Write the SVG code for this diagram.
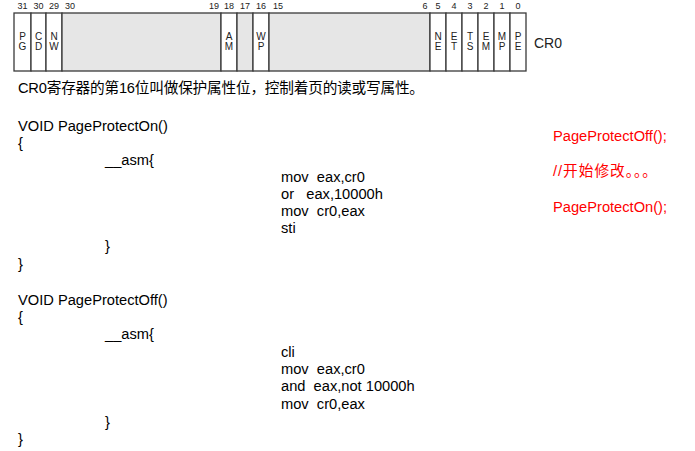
<svg xmlns="http://www.w3.org/2000/svg" width="695" height="451" viewBox="0 0 695 451">
<style>
.bg{fill:#ffffff}
.w{fill:#ffffff;stroke:#3a3a3a;stroke-width:1.3}
.g{fill:#e6e6e6;stroke:#3a3a3a;stroke-width:1.3}
.bit{font-family:"Liberation Sans",Arial,sans-serif;font-size:9px;fill:#222;text-anchor:middle}
.fl{font-family:"Liberation Sans",Arial,sans-serif;font-size:10px;fill:#222;text-anchor:middle}
.cr{font-family:"Liberation Sans",Arial,sans-serif;font-size:14px;fill:#222}
.t{font-family:"Liberation Sans",Arial,"Noto Sans CJK SC",sans-serif;font-size:14.67px;fill:#000}
.r{font-family:"Liberation Sans",Arial,"Noto Sans CJK SC",sans-serif;font-size:14.67px;fill:#ff0000}
</style>
<rect class="bg" x="0" y="0" width="695" height="451"/>
<g id="register">
<rect class="w" x="14" y="13" width="17" height="58"/>
<rect class="w" x="31" y="13" width="15" height="58"/>
<rect class="w" x="46" y="13" width="16" height="58"/>
<rect class="g" x="62" y="13" width="159" height="58"/>
<rect class="w" x="221" y="13" width="16" height="58"/>
<rect class="g" x="237" y="13" width="16" height="58"/>
<rect class="w" x="253" y="13" width="16" height="58"/>
<rect class="g" x="269" y="13" width="161" height="58"/>
<rect class="w" x="430" y="13" width="16" height="58"/>
<rect class="w" x="446" y="13" width="16" height="58"/>
<rect class="w" x="462" y="13" width="16" height="58"/>
<rect class="w" x="478" y="13" width="16" height="58"/>
<rect class="w" x="494" y="13" width="16" height="58"/>
<rect class="w" x="510" y="13" width="16" height="58"/>
</g>
<g id="bit-numbers">
<text class="bit" x="22.5" y="8.5">31</text>
<text class="bit" x="38.5" y="8.5">30</text>
<text class="bit" x="54" y="8.5">29</text>
<text class="bit" x="70" y="8.5">30</text>
<text class="bit" x="214" y="8.5">19</text>
<text class="bit" x="229" y="8.5">18</text>
<text class="bit" x="245" y="8.5">17</text>
<text class="bit" x="261" y="8.5">16</text>
<text class="bit" x="278" y="8.5">15</text>
<text class="bit" x="425" y="8.5">6</text>
<text class="bit" x="438" y="8.5">5</text>
<text class="bit" x="454" y="8.5">4</text>
<text class="bit" x="470" y="8.5">3</text>
<text class="bit" x="486" y="8.5">2</text>
<text class="bit" x="502" y="8.5">1</text>
<text class="bit" x="518" y="8.5">0</text>
</g>
<g id="flags">
<text class="fl" x="22.5" y="39.5">P</text><text class="fl" x="22.5" y="50">G</text>
<text class="fl" x="38.5" y="39.5">C</text><text class="fl" x="38.5" y="50">D</text>
<text class="fl" x="54" y="39.5">N</text><text class="fl" x="54" y="50">W</text>
<text class="fl" x="229" y="39.5">A</text><text class="fl" x="229" y="50">M</text>
<text class="fl" x="261" y="39.5">W</text><text class="fl" x="261" y="50">P</text>
<text class="fl" x="438" y="39.5">N</text><text class="fl" x="438" y="50">E</text>
<text class="fl" x="454" y="39.5">E</text><text class="fl" x="454" y="50">T</text>
<text class="fl" x="470" y="39.5">T</text><text class="fl" x="470" y="50">S</text>
<text class="fl" x="486" y="39.5">E</text><text class="fl" x="486" y="50">M</text>
<text class="fl" x="502" y="39.5">M</text><text class="fl" x="502" y="50">P</text>
<text class="fl" x="518" y="39.5">P</text><text class="fl" x="518" y="50">E</text>
<text class="cr" x="534" y="48">CR0</text>
</g>
<g id="description">
<text class="t" x="18" y="93" textLength="406" lengthAdjust="spacing">CR0寄存器的第16位叫做保护属性位，控制着页的读或写属性。</text>
</g>
<g id="page-protect-on">
<text class="t" x="18" y="131">VOID PageProtectOn()</text>
<text class="t" x="18" y="147.5">{</text>
<text class="t" x="105" y="164.5">__asm{</text>
<text class="t" x="281" y="182" xml:space="preserve">mov  eax,cr0</text>
<text class="t" x="281" y="198.5" xml:space="preserve">or   eax,10000h</text>
<text class="t" x="281" y="216" xml:space="preserve">mov  cr0,eax</text>
<text class="t" x="281" y="233">sti</text>
<text class="t" x="105" y="251">}</text>
<text class="t" x="18" y="269">}</text>
</g>
<g id="page-protect-off">
<text class="t" x="18" y="305">VOID PageProtectOff()</text>
<text class="t" x="18" y="322">{</text>
<text class="t" x="105" y="339">__asm{</text>
<text class="t" x="281" y="357">cli</text>
<text class="t" x="281" y="374" xml:space="preserve">mov  eax,cr0</text>
<text class="t" x="281" y="391" xml:space="preserve">and  eax,not 10000h</text>
<text class="t" x="281" y="409" xml:space="preserve">mov  cr0,eax</text>
<text class="t" x="105" y="427">}</text>
<text class="t" x="18" y="444">}</text>
</g>
<g id="usage-note">
<text class="r" x="553" y="140.5">PageProtectOff();</text>
<text class="r" x="553" y="175.5" textLength="104" lengthAdjust="spacing">//开始修改。。。</text>
<text class="r" x="553" y="211.5">PageProtectOn();</text>
</g>
</svg>
